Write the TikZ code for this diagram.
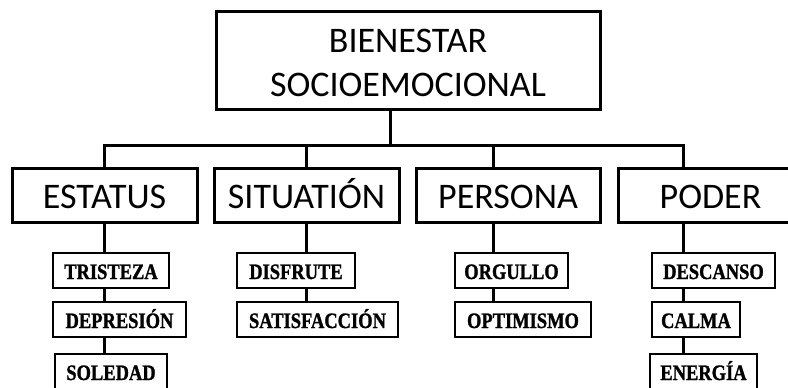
\documentclass[tikz,border=0pt]{standalone}
\usepackage{fontspec}
\setmainfont{Carlito}
\newfontfamily\leaffont{Liberation Serif}[FakeStretch=0.84,BoldFeatures={FakeBold=1.2}]
\begin{document}
\begin{tikzpicture}[x=1pt,y=-1pt,
  topbox/.style={draw=black,line width=3pt,fill=white,inner sep=0pt,minimum height=98pt,minimum width=384pt,font=\fontsize{36}{44}\selectfont},
  midbox/.style={draw=black,line width=3pt,fill=white,inner sep=0pt,minimum height=54pt,minimum width=185pt,text height=27pt,text depth=0pt,font=\fontsize{36}{40}\selectfont},
  leafbox/.style={draw=black,line width=2pt,fill=white,inner sep=0pt,minimum height=35pt,text height=17pt,text depth=0pt,font=\leaffont\bfseries\fontsize{22}{24}\selectfont},
  link/.style={draw=black,line width=3pt}]
\useasboundingbox (0,0) rectangle (788,388);
\clip (0,0) rectangle (788,388);
% bus coordinates
\coordinate (t) at (390,145);
\coordinate (cE) at (104,145);
\coordinate (cS) at (306,145);
\coordinate (cP) at (493,145);
\coordinate (cD) at (683,145);
% level 1 and 2
\node[topbox] (top) at (408,60) {\raisebox{-6pt}[\height][\depth]{\begin{tabular}{@{}c@{}}BIENESTAR\\SOCIOEMOCIONAL\end{tabular}}};
\node[midbox] (estatus) at (104.5,195) {ESTATUS};
\node[midbox] (situacion) at (306.5,195) {SITUATIÓN};
\node[midbox,minimum width=184pt] (persona) at (508,195) {PERSONA};
\node[midbox] (poder) at (710.5,195) {PODER};
% leaves
\node[leafbox,minimum width=116pt] (tristeza) at (111,270.5) {TRISTEZA};
\node[leafbox,minimum width=133pt] (depresion) at (119.5,319.5) {DEPRESIÓN};
\node[leafbox,minimum width=112pt] (soledad) at (111,371.5) {SOLEDAD};
\node[leafbox,minimum width=118pt] (disfrute) at (296,270.5) {DISFRUTE};
\node[leafbox,minimum width=161pt] (satisf) at (317.5,319.5) {SATISFACCIÓN};
\node[leafbox,minimum width=113pt] (orgullo) at (511.5,270.5) {ORGULLO};
\node[leafbox,minimum width=136pt] (optimismo) at (523,319.5) {OPTIMISMO};
\node[leafbox,minimum width=123pt] (descanso) at (713.5,270.5) {DESCANSO};
\node[leafbox,minimum width=88pt] (calma) at (696,319.5) {CALMA};
\node[leafbox,minimum width=107pt] (energia) at (703.5,371.5) {ENERGÍA};
% connectors
\draw[link] (t |- top.south) -- (t);
\draw[link,line cap=rect] (cE) -- (cD);
\draw[link] (cE) -- (cE |- estatus.north);
\draw[link] (cS) -- (cS |- situacion.north);
\draw[link] (cP) -- (cP |- persona.north);
\draw[link] (cD) -- (cD |- poder.north);
\draw[link] (cE |- estatus.south) -- (cE |- tristeza.north);
\draw[link] (cE |- tristeza.south) -- (cE |- depresion.north);
\draw[link] (cE |- depresion.south) -- (cE |- soledad.north);
\draw[link] (cS |- situacion.south) -- (cS |- disfrute.north);
\draw[link] (cS |- disfrute.south) -- (cS |- satisf.north);
\draw[link] (cP |- persona.south) -- (cP |- orgullo.north);
\draw[link] (cP |- orgullo.south) -- (cP |- optimismo.north);
\draw[link] (cD |- poder.south) -- (cD |- descanso.north);
\draw[link] (cD |- descanso.south) -- (cD |- calma.north);
\draw[link] (cD |- calma.south) -- (cD |- energia.north);
\end{tikzpicture}
\end{document}
